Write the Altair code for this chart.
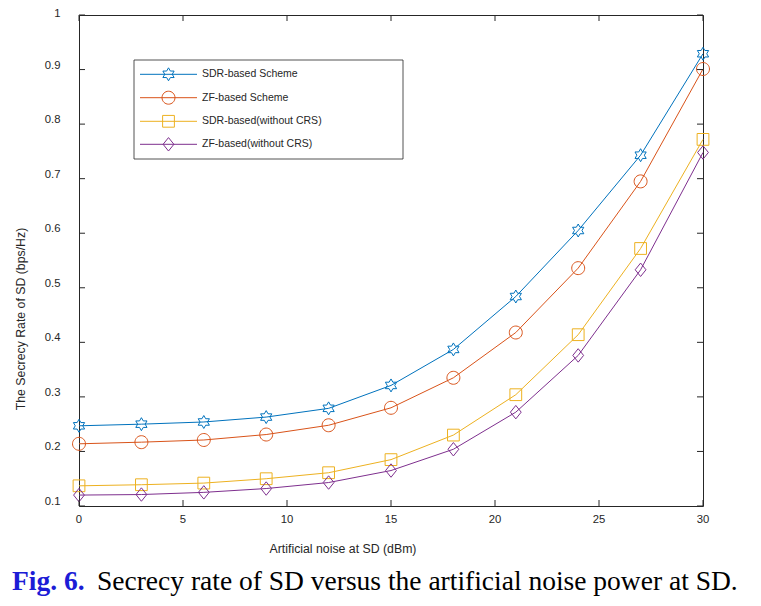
import math
import altair as alt
import pandas as pd

# ---------------- data ----------------
x_vals = [0, 3, 6, 9, 12, 15, 18, 21, 24, 27, 30]
sdr_based = [0.247, 0.250, 0.254, 0.263, 0.279, 0.321, 0.387, 0.484, 0.605, 0.743, 0.929]
zf_based = [0.214, 0.217, 0.221, 0.231, 0.248, 0.280, 0.335, 0.418, 0.536, 0.695, 0.901]
sdr_no_crs = [0.137, 0.139, 0.142, 0.150, 0.161, 0.185, 0.230, 0.304, 0.414, 0.572, 0.772]
zf_no_crs = [0.120, 0.121, 0.125, 0.132, 0.143, 0.165, 0.204, 0.272, 0.376, 0.533, 0.748]

series_names = ["SDR-based Scheme", "ZF-based Scheme",
                "SDR-based(without CRS)", "ZF-based(without CRS)"]
series_values = [sdr_based, zf_based, sdr_no_crs, zf_no_crs]
series_colors = ["#0072BD", "#D95319", "#EDB120", "#7E2F8E"]

x_ticks = [0, 5, 10, 15, 20, 25, 30]
x_tick_labels = ["0", "5", "10", "15", "20", "25", "30"]
y_ticks = [0.1, 0.2, 0.3, 0.4, 0.5, 0.6, 0.7, 0.8, 0.9, 1.0]
y_tick_labels = ["0.1", "0.2", "0.3", "0.4", "0.5", "0.6", "0.7", "0.8", "0.9", "1"]

x_title = "Artificial noise at SD (dBm)"
y_title = "The Secrecy Rate of SD (bps/Hz)"
caption_fig = "Fig. 6."
caption_text = "Secrecy rate of SD versus the artificial noise power at SD."

# ---------------- marker shapes ----------------
def hexagram(r_out=1.08):
    r_in = r_out / math.sqrt(3)
    pts = []
    for k in range(12):
        ang = math.radians(-90 + 30 * k)
        r = r_out if k % 2 == 0 else r_in
        pts.append((r * math.cos(ang), r * math.sin(ang)))
    return "M" + "L".join(f"{px:.3f},{py:.3f}" for px, py in pts) + "Z"

circle_path = "M1.08,0A1.08,1.08,0,1,1,-1.08,0A1.08,1.08,0,1,1,1.08,0Z"
square_path = "M-0.98,-0.98H0.98V0.98H-0.98Z"
diamond_path = "M0,-1.12L0.9,0L0,1.12L-0.9,0Z"
series_shapes = [hexagram(), circle_path, square_path, diamond_path]

rows = []
for name, vals in zip(series_names, series_values):
    for xv, yv in zip(x_vals, vals):
        rows.append({"noise": xv, "rate": yv, "series": name})
df = pd.DataFrame(rows)

W, H = 624, 491
AX = "#262626"
FONT = "Liberation Sans"

xs = alt.Scale(domain=[0, 30], nice=False)
ys = alt.Scale(domain=[0.1, 1.0], nice=False, zero=False)
cs = alt.Scale(domain=series_names, range=series_colors)
ss = alt.Scale(domain=series_names, range=series_shapes)

base = alt.Chart(df)
lines = base.mark_line(strokeWidth=1).encode(
    x=alt.X("noise:Q", scale=xs, axis=None),
    y=alt.Y("rate:Q", scale=ys, axis=None),
    color=alt.Color("series:N", scale=cs, legend=None),
    detail="series:N",
)
points = base.mark_point(filled=False, size=144, strokeWidth=1, opacity=1).encode(
    x=alt.X("noise:Q", scale=xs, axis=None),
    y=alt.Y("rate:Q", scale=ys, axis=None),
    color=alt.Color("series:N", scale=cs, legend=None),
    shape=alt.Shape("series:N", scale=ss, legend=None),
)

# ---------------- axes (MATLAB style: inward ticks on all four sides) ----------------
xt = alt.Chart(pd.DataFrame({"t": x_ticks, "lab": x_tick_labels}))
yt = alt.Chart(pd.DataFrame({"t": y_ticks, "lab": y_tick_labels}))
tick_bottom = xt.mark_rule(color=AX, strokeWidth=1).encode(
    x=alt.X("t:Q", scale=xs, axis=None), y=alt.value(H), y2=alt.value(H - 6))
tick_top = xt.mark_rule(color=AX, strokeWidth=1).encode(
    x=alt.X("t:Q", scale=xs, axis=None), y=alt.value(0), y2=alt.value(6))
tick_left = yt.mark_rule(color=AX, strokeWidth=1).encode(
    y=alt.Y("t:Q", scale=ys, axis=None), x=alt.value(0), x2=alt.value(6))
tick_right = yt.mark_rule(color=AX, strokeWidth=1).encode(
    y=alt.Y("t:Q", scale=ys, axis=None), x=alt.value(W), x2=alt.value(W - 6))

x_labels = xt.mark_text(font=FONT, fontSize=11.3, color=AX, align="center",
                        baseline="middle").encode(
    x=alt.X("t:Q", scale=xs, axis=None), y=alt.value(H + 14), text="lab:N")
y_labels = yt.transform_filter(alt.datum.t < 0.95).mark_text(
    font=FONT, fontSize=11.3, color=AX, align="right", baseline="middle", dy=-4).encode(
    y=alt.Y("t:Q", scale=ys, axis=None), x=alt.value(-18.5), text="lab:N")
y_label_top = yt.transform_filter(alt.datum.t > 0.95).mark_text(
    font=FONT, fontSize=11.3, color=AX, align="right", baseline="middle", dy=-1).encode(
    y=alt.Y("t:Q", scale=ys, axis=None), x=alt.value(-18.5), text="lab:N")

titles = alt.Chart(pd.DataFrame({"xt": [x_title], "yt": [y_title]}))
x_title_mark = titles.mark_text(font=FONT, fontSize=12.3, color=AX, align="center",
                                baseline="middle").encode(
    x=alt.value(264), y=alt.value(534), text="xt:N")
y_title_mark = titles.mark_text(font=FONT, fontSize=12.3, color=AX, align="center",
                                baseline="middle", angle=270).encode(
    x=alt.value(-58), y=alt.value(304), text="yt:N")

cap = alt.Chart(pd.DataFrame({"a": [caption_fig], "b": [caption_text]}))
cap_fig = cap.mark_text(font="Liberation Serif", fontSize=27.5, fontWeight="bold",
                        color="#1c1cd6", align="left", baseline="alphabetic").encode(
    x=alt.value(-67), y=alt.value(575), text="a:N")
cap_txt = cap.mark_text(font="Liberation Serif", fontSize=27.5, color="#000000",
                        align="left", baseline="alphabetic").encode(
    x=alt.value(18), y=alt.value(575), text="b:N")

# ---------------- legend (drawn inside the plot) ----------------
leg_df = pd.DataFrame({"series": series_names, "row": list(range(len(series_names)))})
leg = alt.Chart(leg_df)
row_pos = [59.3, 82.7, 106.3, 129.3]

leg_box = alt.Chart(pd.DataFrame({"k": [0]})).mark_rect(
    fill="white", stroke=AX, strokeWidth=0.8).encode(
    x=alt.value(55), x2=alt.value(324), y=alt.value(45), y2=alt.value(144))

leg_layers = [leg_box]
for i, ry in enumerate(row_pos):
    sub = leg.transform_filter(alt.datum.row == i)
    leg_layers.append(sub.mark_rule(strokeWidth=1).encode(
        x=alt.value(61), x2=alt.value(118), y=alt.value(ry),
        color=alt.Color("series:N", scale=cs, legend=None)))
    leg_layers.append(sub.mark_point(filled=False, size=144, strokeWidth=1, opacity=1).encode(
        x=alt.value(89.5), y=alt.value(ry),
        color=alt.Color("series:N", scale=cs, legend=None),
        shape=alt.Shape("series:N", scale=ss, legend=None)))
    leg_layers.append(sub.mark_text(font=FONT, fontSize=10.5, color=AX, align="left",
                                    baseline="middle").encode(
        x=alt.value(123), y=alt.value(ry), text="series:N"))

chart = alt.layer(lines, points, tick_bottom, tick_top, tick_left, tick_right,
                  x_labels, y_labels, y_label_top, x_title_mark, y_title_mark,
                  cap_fig, cap_txt, *leg_layers).properties(
    width=W, height=H,
    background="white",
    autosize=alt.AutoSizeParams(type="none"),
    padding={"left": 71, "top": 7, "right": 50, "bottom": 92},
).configure_view(stroke=AX, strokeWidth=1)

chart.save("out.html", embed_options={"renderer": "svg", "actions": False})
